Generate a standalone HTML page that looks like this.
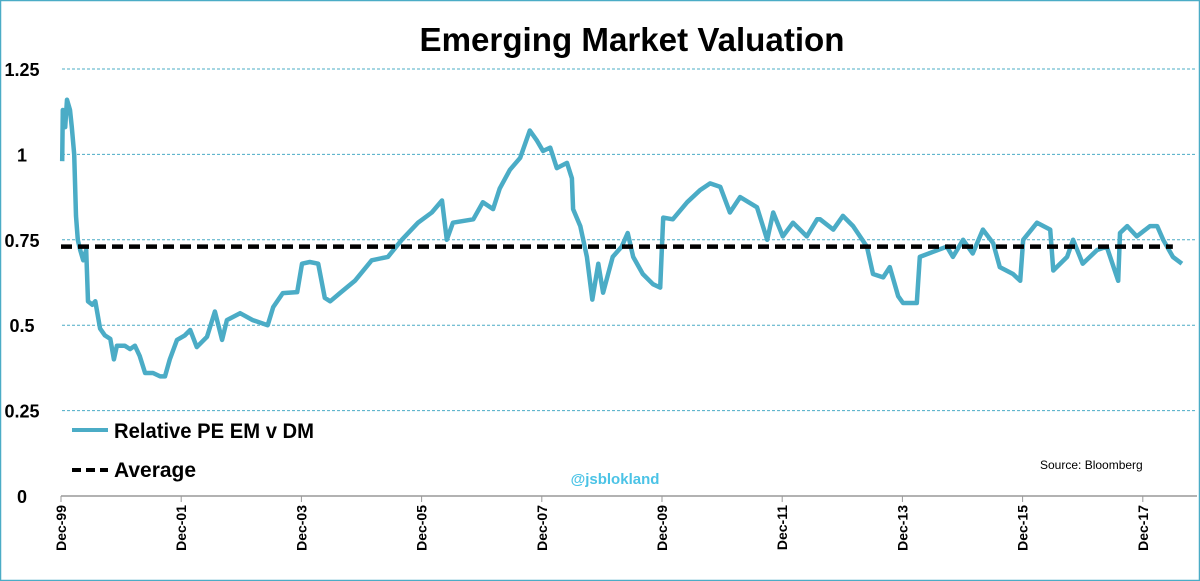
<!DOCTYPE html>
<html><head><meta charset="utf-8"><style>
body{margin:0;background:#fff;}
svg{display:block;font-family:"Liberation Sans",sans-serif;}
</style></head><body>
<svg id="chart" width="1200" height="581">
<rect x="0.5" y="0.5" width="1199" height="580" fill="#fff" stroke="#4bacc6" stroke-width="1.5"/>
<text x="632" y="51" text-anchor="middle" font-size="33" font-weight="bold" textLength="425" lengthAdjust="spacingAndGlyphs">Emerging Market Valuation</text>
<g id="grid"></g><g id="yt"></g><g id="xt"></g><g id="series"></g>
<g>
<line x1="72" y1="430" x2="108" y2="430" stroke="#4bacc6" stroke-width="4"/>
<text x="114" y="438" font-size="21" font-weight="bold" textLength="200" lengthAdjust="spacingAndGlyphs">Relative PE EM v DM</text>
<line x1="72" y1="470" x2="108" y2="470" stroke="#000" stroke-width="4" stroke-dasharray="9,5"/>
<text x="114" y="477" font-size="21" font-weight="bold" textLength="82" lengthAdjust="spacingAndGlyphs">Average</text>
</g>
<text x="615" y="484" text-anchor="middle" font-size="15" font-weight="bold" fill="#4bc3e6">@jsblokland</text>
<text x="1040" y="469" font-size="12">Source: Bloomberg</text>
</svg>
<script>
const yTicks=[0,0.25,0.5,0.75,1,1.25];
const yTickLabels=["0","0.25","0.5","0.75","1","1.25"];
const xTickYears=[0,2,4,6,8,10,12,14,16,18];
const xTickLabels=["Dec-99","Dec-01","Dec-03","Dec-05","Dec-07","Dec-09","Dec-11","Dec-13","Dec-15","Dec-17"];
const averageValue=0.73;
const seriesT=[0.02,0.03,0.07,0.10,0.15,0.18,0.22,0.25,0.28,0.32,0.37,0.42,0.45,0.52,0.57,0.65,0.73,0.82,0.88,0.93,1.06,1.15,1.23,1.31,1.40,1.53,1.65,1.73,1.81,1.93,2.06,2.15,2.26,2.43,2.56,2.68,2.76,2.98,3.19,3.44,3.53,3.69,3.93,4.01,4.14,4.28,4.39,4.48,4.64,4.89,5.17,5.44,5.67,5.94,6.17,6.34,6.42,6.52,6.86,7.02,7.19,7.30,7.47,7.64,7.80,7.92,8.02,8.14,8.25,8.42,8.50,8.52,8.64,8.75,8.84,8.94,9.02,9.18,9.33,9.43,9.52,9.68,9.85,9.97,10.02,10.18,10.42,10.63,10.80,10.97,11.13,11.30,11.58,11.75,11.85,12.01,12.18,12.41,12.58,12.63,12.85,13.01,13.18,13.41,13.51,13.68,13.79,13.93,14.01,14.24,14.29,14.51,14.74,14.84,15.01,15.17,15.34,15.51,15.62,15.84,15.96,16.01,16.24,16.46,16.51,16.74,16.84,17.00,17.24,17.40,17.59,17.62,17.74,17.90,18.12,18.24,18.34,18.50,18.65];
const seriesV=[0.98,1.13,1.08,1.16,1.13,1.08,1.00,0.82,0.75,0.72,0.69,0.72,0.57,0.56,0.57,0.49,0.47,0.46,0.40,0.44,0.44,0.43,0.44,0.41,0.36,0.36,0.35,0.35,0.40,0.457,0.47,0.486,0.436,0.466,0.54,0.457,0.515,0.535,0.515,0.50,0.553,0.594,0.597,0.68,0.685,0.68,0.58,0.57,0.594,0.63,0.69,0.70,0.75,0.80,0.83,0.865,0.75,0.80,0.81,0.86,0.84,0.90,0.955,0.99,1.07,1.04,1.01,1.02,0.96,0.975,0.93,0.84,0.79,0.70,0.575,0.68,0.595,0.70,0.73,0.77,0.70,0.65,0.62,0.61,0.815,0.81,0.86,0.895,0.915,0.905,0.83,0.875,0.845,0.75,0.83,0.76,0.80,0.76,0.81,0.81,0.78,0.82,0.79,0.73,0.65,0.64,0.67,0.585,0.565,0.565,0.70,0.715,0.73,0.70,0.75,0.71,0.78,0.74,0.67,0.65,0.63,0.75,0.80,0.78,0.66,0.70,0.75,0.68,0.72,0.73,0.63,0.77,0.79,0.76,0.79,0.79,0.75,0.70,0.68];
const NS="http://www.w3.org/2000/svg";
const X0=61,PX_PER_YEAR=60.1,Y0=496,PX_PER_UNIT=341.6;
function xs(t){return X0+t*PX_PER_YEAR;}
function ys(v){return Y0-v*PX_PER_UNIT;}
function mk(tag,attrs,parent){const e=document.createElementNS(NS,tag);for(const k in attrs)e.setAttribute(k,attrs[k]);document.getElementById(parent).appendChild(e);return e;}
yTicks.forEach((v,i)=>{
  if(v>0){const g=mk('line',{x1:62,x2:1197,y1:ys(v),y2:ys(v),stroke:'#4bacc6','stroke-width':1,'stroke-dasharray':'3,2'},'grid');
  
  }
  const t=mk('text',{x:22,y:ys(v)+7,'text-anchor':'middle','font-size':18,'font-weight':'bold'},'yt');
  t.textContent=yTickLabels[i];
  
  
});
const ax=mk('line',{x1:61,x2:1197,y1:Y0,y2:Y0,stroke:'#999','stroke-width':1.5},'xt');


xTickYears.forEach((yr,i)=>{
  const x=xs(yr);
  const tk=mk('line',{x1:x,x2:x,y1:Y0,y2:Y0+6,stroke:'#999','stroke-width':1},'xt');
  
  
  const t=mk('text',{x:0,y:0,'text-anchor':'end','font-size':14,'font-weight':'bold',transform:`translate(${x+5},505) rotate(-90)`},'xt');
  t.textContent=xTickLabels[i];
  
  
});
const pts=seriesT.map((t,i)=>xs(t).toFixed(1)+','+ys(seriesV[i]).toFixed(1)).join(' ');
const pl=mk('polyline',{points:pts,fill:'none',stroke:'#4bacc6','stroke-width':4.5,'stroke-linejoin':'round'},'series');


const av=mk('line',{x1:xs(0),x2:xs(18.5),y1:ys(averageValue),y2:ys(averageValue),stroke:'#000','stroke-width':4.5,'stroke-dasharray':'11,6'},'series');


</script>
</body></html>
